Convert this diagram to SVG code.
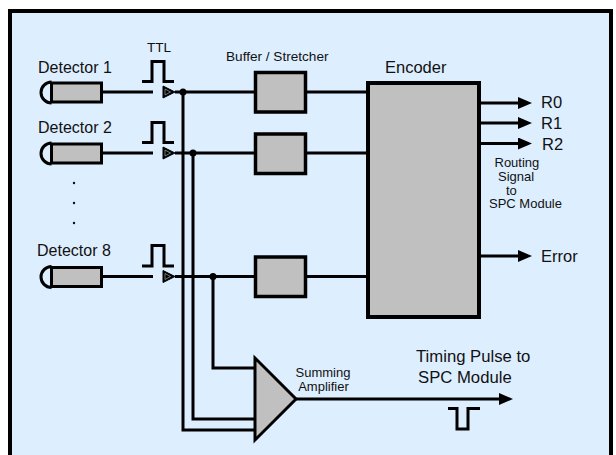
<svg xmlns="http://www.w3.org/2000/svg" width="616" height="455" viewBox="0 0 616 455">
<style>
.wire{fill:none;stroke:#000;stroke-width:3}
.box{fill:#c0c0c0;stroke:#000;stroke-width:3.5}
.det{fill:#c0c0c0;stroke:#000;stroke-width:3}
.cap{fill:none;stroke:#000;stroke-width:3}
.pulse{fill:none;stroke:#000;stroke-width:3}
.buf{fill:#000;stroke:#000;stroke-width:1}
.bufin{fill:none;stroke:#9aa;stroke-width:0.7}
text{font-family:"Liberation Sans",Arial,sans-serif;fill:#111}
.lbl{font-size:16px}
.sm{font-size:13.6px}
.tiny{font-size:13px}
.out{font-size:16.5px}
</style>
<defs>
<marker id="arr" viewBox="0 0 14 12" markerWidth="14" markerHeight="12" refX="2" refY="6" orient="auto" markerUnits="userSpaceOnUse">
<path d="M0,0 L14,6 L0,12 z" fill="#000"/>
</marker>
</defs>
<rect x="0" y="0" width="616" height="455" fill="#fff"/>
<rect id="frame" x="10" y="11" width="601" height="460" fill="#ddeeff" stroke="#000" stroke-width="4"/>

<g id="detector1">
<text class="lbl" x="38" y="72.5">Detector 1</text>
<path class="cap" d="M51.5,82 A10.5,10.5 0 0 0 51.5,103"/>
<rect class="det" x="51.5" y="83" width="50" height="19"/>
<path class="pulse" d="M142,81.5 H152 V61.5 H164 V81.5 H174"/>
<path class="buf" d="M163,86 L175,92 L163,98 z"/>
<path class="bufin" d="M165,89 L170.5,92 L165,95 z"/>
</g>
<g id="detector2">
<text class="lbl" x="38" y="133">Detector 2</text>
<path class="cap" d="M51.5,143 A10.5,10.5 0 0 0 51.5,164"/>
<rect class="det" x="51.5" y="144" width="50" height="19"/>
<path class="pulse" d="M142,142.5 H152 V122.5 H164 V142.5 H174"/>
<path class="buf" d="M163,147 L175,153 L163,159 z"/>
<path class="bufin" d="M165,150 L170.5,153 L165,156 z"/>
</g>
<g id="ellipsis">
<circle cx="74" cy="183" r="1.2" fill="#111"/>
<circle cx="74" cy="203" r="1.2" fill="#111"/>
<circle cx="74" cy="223" r="1.2" fill="#111"/>
</g>
<g id="detector8">
<text class="lbl" x="37" y="256">Detector 8</text>
<path class="cap" d="M51.5,266.5 A10.5,10.5 0 0 0 51.5,287.5"/>
<rect class="det" x="51.5" y="267.5" width="50" height="19"/>
<path class="pulse" d="M142,266 H152 V245.5 H164 V266 H174"/>
<path class="buf" d="M163,270.5 L175,276.5 L163,282.5 z"/>
<path class="bufin" d="M165,273.5 L170.5,276.5 L165,279.5 z"/>
</g>
<text id="ttl" class="sm" x="147" y="52.3">TTL</text>

<g id="buffers">
<text class="sm" x="226" y="61">Buffer / Stretcher</text>
<rect class="box" x="255.5" y="72.5" width="50" height="39.5"/>
<rect class="box" x="255.5" y="134" width="50" height="39.5"/>
<rect class="box" x="255.5" y="257" width="50" height="39.5"/>
</g>

<g id="encoder">
<text x="385" y="72.7" style="font-size:16.5px">Encoder</text>
<rect x="368" y="83" width="111" height="234" fill="#c0c0c0" stroke="#000" stroke-width="4"/>
</g>

<g id="outputs">
<text class="out" x="541" y="108.3">R0</text>
<text class="out" x="541" y="128.7">R1</text>
<text class="out" x="542" y="150">R2</text>
<text class="out" x="541" y="262.3">Error</text>
<text class="tiny" x="494.5" y="167.3">Routing</text>
<text class="tiny" x="498" y="180.9">Signal</text>
<text class="tiny" x="506" y="194.8">to</text>
<text class="tiny" x="489" y="208.3">SPC Module</text>
</g>

<g id="amplifier">
<path d="M255,358 L255,440 L296,399 z" fill="#c0c0c0" stroke="#000" stroke-width="3" stroke-linejoin="miter"/>
<text class="tiny" x="323" y="377" text-anchor="middle">Summing</text>
<text class="tiny" x="323.5" y="391" text-anchor="middle">Amplifier</text>
</g>

<g id="timing">
<text x="416" y="361.7" style="font-size:16.7px">Timing Pulse to</text>
<text x="418" y="382.7" style="font-size:16.7px">SPC Module</text>
<path class="pulse" d="M448,408.5 H457 V429 H468 V408.5 H480"/>
</g>

<g id="connectors">
<path class="wire" d="M103,92 H153"/>
<path class="wire" d="M103,153 H153"/>
<path class="wire" d="M103,276.5 H153"/>
<path class="wire" d="M175,92 H254"/>
<path class="wire" d="M175,153 H254"/>
<path class="wire" d="M175,276.5 H254"/>
<path class="wire" d="M307,92 H367"/>
<path class="wire" d="M307,153 H367"/>
<path class="wire" d="M307,276.5 H367"/>
<path class="wire" d="M183,92 V430 H255"/>
<path class="wire" d="M193,153 V419 H255"/>
<path class="wire" d="M213,276.5 V368 H255"/>
<circle cx="183" cy="92" r="3.5" fill="#000"/>
<circle cx="193" cy="153" r="3.5" fill="#000"/>
<circle cx="213" cy="276.5" r="3.5" fill="#000"/>
<path class="wire" d="M481,103 H520" marker-end="url(#arr)"/>
<path class="wire" d="M481,123 H520" marker-end="url(#arr)"/>
<path class="wire" d="M481,143.5 H520" marker-end="url(#arr)"/>
<path class="wire" d="M481,256 H520" marker-end="url(#arr)"/>
<path class="wire" d="M296,399 H501" marker-end="url(#arr)"/>
</g>
</svg>
